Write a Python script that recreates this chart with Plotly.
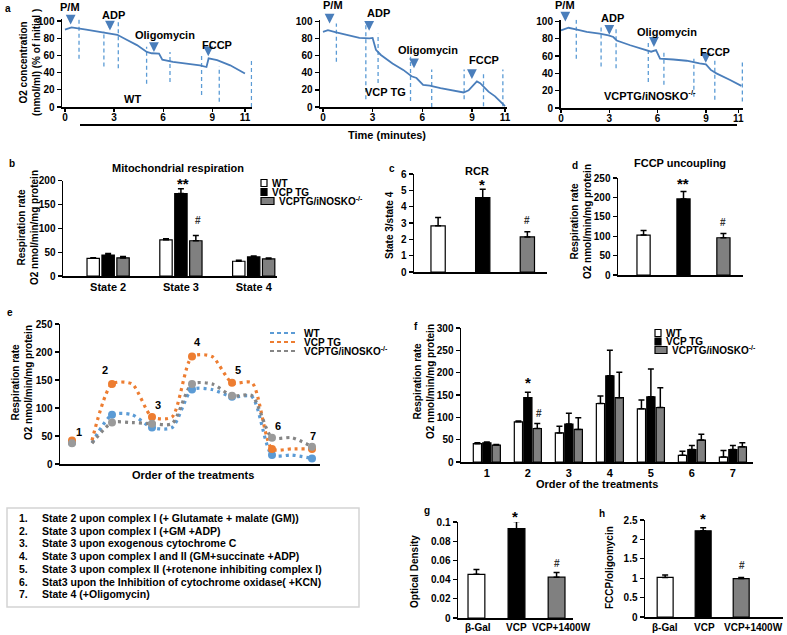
import plotly.graph_objects as go

W, H = 787, 635
FONT = "Arial, Liberation Sans, Helvetica, sans-serif"


def fx(x):
    return x / W


def fy(y):
    return 1 - y / H


# ---------------- DATA ----------------
# panel a: oxygen traces (minutes, % of initial)
time_ticks = [0, 3, 6, 9, 11]
o2_ticks = [0, 20, 40, 60, 80, 100]
wt_t = [0, 0.4, 1.3, 2.1, 2.95, 3.2, 3.8, 4.4, 5.0, 5.3, 5.75, 5.95, 6.6, 7.4, 8.25, 8.65, 8.78, 9.3, 10.1, 11.0]
wt_o2 = [90, 92.5, 90, 87.5, 85.5, 84, 78, 72, 64, 62.5, 62, 55, 52.5, 50.5, 48.5, 46.5, 56.5, 54.5, 48.5, 39]
vcp_t = [0, 0.3, 0.8, 1.4, 2.2, 2.8, 3.0, 3.2, 3.5, 4.2, 4.85, 5.35, 5.65, 6.05, 6.45, 7.1, 7.7, 8.5, 8.8, 9.3, 9.5, 10.0, 10.4, 11.0]
vcp_o2 = [88, 90, 87.5, 85, 81, 80.5, 81, 67, 61, 51, 43.5, 36, 34, 26, 25, 22, 20, 17, 19.5, 30, 28, 18, 12.5, 1]
inos_t = [0, 0.47, 1.0, 1.6, 2.4, 2.95, 3.25, 3.46, 4.3, 5.3, 5.6, 5.9, 6.15, 6.97, 7.8, 8.6, 9.0, 9.3, 9.65, 10.5, 11.2]
inos_o2 = [89.7, 92.7, 90.5, 88, 86, 84, 82, 78, 72.5, 66.8, 65, 66.8, 57, 56, 54.6, 51.5, 50.4, 44, 40, 32.4, 25.6]

# dashed interval marks (time, low, high)
wt_mark_t = [0.86, 2.38, 3.26, 4.99, 6.42, 8.35, 9.43, 11.4]
wt_mark_lo = [56, 47, 45, 27, 29, 14, 6, 0]
wt_mark_hi = [102, 88, 99, 70, 64, 62, 47, 54]
vcp_mark_t = [0.81, 2.59, 3.33, 5.29, 6.57, 8.53, 9.7, 10.87]
vcp_mark_lo = [53, 9, 28, 7, 0, 9, 1, 1]
vcp_mark_hi = [98, 96, 86, 59, 44, 44, 40, 44]
inos_mark_t = [0.95, 2.49, 3.42, 5.42, 6.39, 8.25, 9.55, 11.26]
inos_mark_lo = [57, 48, 46, 30, 27, 13, 9.5, 7.6]
inos_mark_hi = [102, 93.5, 93.5, 76, 67, 57, 57, 55]

# additions (arrow tips)
additions = ["P/M", "ADP", "Oligomycin", "FCCP"]
wt_add_t = [0.35, 2.75, 5.44, 8.76]
wt_add_o2 = [96, 89, 64, 59]
vcp_add_t = [0.4, 2.79, 5.5, 9.0]
vcp_add_o2 = [98, 89.5, 45.5, 32.7]
inos_add_t = [0.27, 3.0, 5.77, 8.99]
inos_add_o2 = [100, 84.7, 70.6, 52.3]

# panel b: mitochondrial respiration
states = ["State 2", "State 3", "State 4"]
resp_wt = [37, 76, 31]
resp_wt_err = [1.5, 2, 2]
resp_vcp = [44, 173, 40]
resp_vcp_err = [3, 10, 2]
resp_inos = [38, 74, 36]
resp_inos_err = [3, 11, 2]

# panel c: RCR
rcr = [2.83, 4.55, 2.15]
rcr_err = [0.5, 0.52, 0.31]

# panel d: FCCP uncoupling
fccp = [103, 196, 96]
fccp_err = [12, 19, 11]

# panel e: order of treatments (line)
e_wt = [38, 88, 65, 133, 120, 16, 10]
e_vcp = [42, 143, 84, 192, 145, 27, 27]
e_inos = [37, 74, 72, 143, 122, 47, 31]

# panel f: order of treatments (bars)
treatments = ["1", "2", "3", "4", "5", "6", "7"]
f_wt = [41, 90, 65, 131, 119, 15, 11]
f_wt_err = [2, 2, 15, 17, 20, 9, 15]
f_vcp = [43, 144, 85, 193, 146, 28, 28]
f_vcp_err = [2, 12, 24, 57, 62, 9, 9]
f_inos = [38, 75, 73, 144, 122, 49, 34]
f_inos_err = [1, 11, 26, 57, 44, 13, 9]

treatment_notes = [
    "State 2 upon complex I (+ Glutamate + malate (GM))",
    "State 3 upon complex I (+GM +ADP)",
    "State 3 upon exogenous cytochrome C",
    "State 3 upon complex I and II (GM+succinate +ADP)",
    "State 3 upon complex II (+rotenone inhibiting complex I)",
    "Stat3 upon the Inhibition of cytochrome oxidase( +KCN)",
    "State 4 (+Oligomycin)",
]

# panel g / h
cells = ["β-Gal", "VCP", "VCP+1400W"]
od = [0.0455, 0.093, 0.0425]
od_err = [0.005, 0.0075, 0.005]
ratio = [1.02, 2.22, 0.99]
ratio_err = [0.06, 0.08, 0.03]

# ---------------- STYLE ----------------
WHITE, BLACK, GRAY = "white", "black", "#808080"
TRACE_BLUE = "#4a7ebb"
MARK_BLUE = "#5b9bd5"
E_COLORS = {"wt": "#5b9bd5", "vcp": "#ed7d31", "inos": "#9a9a9a"}

fig = go.Figure()
layout = {}
annotations = []
shapes = []


def xa(n):
    return "x" if n == 1 else f"x{n}"


def ya(n):
    return "y" if n == 1 else f"y{n}"


def add_axes(n, xpx, ypx, xr, yr, ytickvals, yticktext=None,
             xtickvals=None, xticktext=None, xticks=False, xfont=11, yfont=10, xstandoff=0):
    kx = "xaxis" if n == 1 else f"xaxis{n}"
    ky = "yaxis" if n == 1 else f"yaxis{n}"
    common = dict(showline=True, linecolor="black", linewidth=1.5, showgrid=False,
                  zeroline=False, ticklen=4, tickwidth=1.2, tickcolor="black",
                  fixedrange=True, automargin=False)
    xd = dict(common, domain=[fx(xpx[0]), fx(xpx[1])], range=xr, anchor=ya(n),
              ticks="outside" if xticks else "", tickangle=0, ticklabelstandoff=xstandoff,
              tickfont=dict(family=FONT, size=xfont, color="black", weight="bold"))
    if xticks:
        xd.update(ticklen=3)
    if xtickvals is not None:
        xd.update(tickmode="array", tickvals=xtickvals,
                  ticktext=xticktext if xticktext is not None else [str(v) for v in xtickvals])
    else:
        xd.update(showticklabels=False)
    yd = dict(common, domain=[fy(ypx[0]), fy(ypx[1])], range=yr, anchor=xa(n),
              ticks="outside", tickmode="array", tickvals=ytickvals,
              ticktext=yticktext if yticktext is not None else [str(v) for v in ytickvals],
              tickfont=dict(family=FONT, size=yfont, color="black", weight="bold"))
    layout[kx] = xd
    layout[ky] = yd


def txt(x, y, s, size=11, bold=True, xanchor="center", angle=0, color="black"):
    annotations.append(dict(
        x=fx(x), y=fy(y), xref="paper", yref="paper", showarrow=False,
        text=f"<b>{s}</b>" if bold else s, textangle=angle, xanchor=xanchor, yanchor="middle",
        font=dict(family=FONT, size=size, color=color)))


# ---------------- PANEL a ----------------
add_axes(1, (62, 252.3), (107, 19.3), [-0.18, 11.45], [0, 102], o2_ticks,
         xtickvals=time_ticks, xticks=True, xfont=10, xstandoff=-3)
add_axes(2, (320, 507), (107, 20), [-0.18, 11.12], [0, 102], o2_ticks,
         xtickvals=time_ticks, xticks=True, xfont=10, xstandoff=-3)
add_axes(3, (560.5, 743), (108, 19.7), [-0.03, 11.3], [0, 102], o2_ticks,
         xtickvals=time_ticks, xticks=True, xfont=10, xstandoff=-3)

traces_a = [
    (1, wt_t, wt_o2, wt_mark_t, wt_mark_lo, wt_mark_hi, wt_add_t, wt_add_o2),
    (2, vcp_t, vcp_o2, vcp_mark_t, vcp_mark_lo, vcp_mark_hi, vcp_add_t, vcp_add_o2),
    (3, inos_t, inos_o2, inos_mark_t, inos_mark_lo, inos_mark_hi, inos_add_t, inos_add_o2),
]
for n, tt, oo, mt, mlo, mhi, at, ao in traces_a:
    mx, my = [], []
    for t, lo, hi in zip(mt, mlo, mhi):
        mx += [t, t, None]
        my += [lo, hi, None]
    fig.add_trace(go.Scatter(x=mx, y=my, mode="lines", xaxis=xa(n), yaxis=ya(n),
                             line=dict(color=MARK_BLUE, width=1.3, dash="4px,3px"),
                             showlegend=False, hoverinfo="skip"))
    fig.add_trace(go.Scatter(x=tt, y=oo, mode="lines", xaxis=xa(n), yaxis=ya(n),
                             line=dict(color=TRACE_BLUE, width=1.8), showlegend=False))
    for t, o in zip(at, ao):
        annotations.append(dict(x=t, y=o, xref=xa(n), yref=ya(n), ax=0, ay=-10,
                                showarrow=True, arrowhead=2, arrowsize=0.85, arrowwidth=2.3,
                                arrowcolor=TRACE_BLUE, text=""))

add_label_pos = {
    1: [(70, 7), (113, 15), (165, 35), (217, 45)],
    2: [(333, 5), (378, 13), (428, 50), (484, 60)],
    3: [(565, 5), (612, 18), (667, 32), (715, 52)],
}
for n, pos in add_label_pos.items():
    for lab, (x, y) in zip(additions, pos):
        txt(x, y, lab, size=11)
txt(132, 99, "WT", size=11)
txt(385, 92, "VCP TG", size=11)
txt(650, 95, "VCPTG/iNOSKO<sup>-/-</sup>", size=11)
txt(3, 8, "a", size=10, xanchor="left")
txt(30, 63, "O2 concentration<br>(nmol/ml) (% of initial )", size=10, angle=-90)
shapes.append(dict(type="line", xref="paper", yref="paper", x0=fx(80), x1=fx(737),
                   y0=fy(125), y1=fy(125), line=dict(color="black", width=2)))
txt(387, 135, "Time (minutes)", size=11)

# ---------------- PANEL b ----------------
add_axes(4, (63, 277), (276, 180.7), [-0.62, 2.32], [0, 200], [0, 50, 100, 150, 200],
         xtickvals=[0, 1, 2], xticktext=states)
off_b, w_b = 0.205, 0.17
for vals, err, col, k in [(resp_wt, resp_wt_err, WHITE, -1), (resp_vcp, resp_vcp_err, BLACK, 0),
                          (resp_inos, resp_inos_err, GRAY, 1)]:
    fig.add_trace(go.Bar(x=[i + k * off_b for i in range(len(states))], y=vals, width=w_b,
                         xaxis="x4", yaxis="y4", showlegend=False,
                         marker=dict(color=col, line=dict(color="black", width=1.2)),
                         error_y=dict(type="data", symmetric=False, array=err,
                                      arrayminus=[0] * len(err), color="black",
                                      thickness=1.5, width=3)))
txt(178, 168, "Mitochondrial respiration", size=11)
txt(7, 163, "b", size=10, xanchor="left")
txt(28, 228, "Respiration rate<br>O2 nmol/min/mg protein", size=10, angle=-90)
txt(183, 183, "**", size=15)
txt(198, 220, "#", size=10, color="#333")


def square_legend(x, ys, labels, colors, widths):
    for yy, lab, col, wd in zip(ys, labels, colors, widths):
        shapes.append(dict(type="rect", xref="paper", yref="paper", x0=fx(x), x1=fx(x + wd),
                           y0=fy(yy + 3.5), y1=fy(yy - 3.5), fillcolor=col,
                           line=dict(color="black", width=1.2)))
        txt(x + wd + 2.5, yy, lab, size=10, xanchor="left")


square_legend(261, [183, 192, 201], ["WT", "VCP TG", "VCPTG/iNOSKO<sup>-/-</sup>"],
              [WHITE, BLACK, GRAY], [6, 6, 13])

# ---------------- PANEL c ----------------
add_axes(5, (414, 547), (272, 174), [-0.54, 2.44], [0, 6], [0, 1, 2, 3, 4, 5, 6])
fig.add_trace(go.Bar(x=[0, 1, 2], y=rcr, width=0.32, xaxis="x5", yaxis="y5", showlegend=False,
                     marker=dict(color=[WHITE, BLACK, GRAY], line=dict(color="black", width=1.2)),
                     error_y=dict(type="data", symmetric=False, array=rcr_err,
                                  arrayminus=[0, 0, 0], color="black", thickness=1.5, width=3)))
txt(477, 171, "RCR", size=11)
txt(387, 168, "c", size=10, xanchor="left")
txt(389, 225, "State 3/state 4", size=10, angle=-90)
txt(482, 184, "*", size=15)
txt(527, 220, "#", size=10, color="#333")

# ---------------- PANEL d ----------------
add_axes(6, (618, 743), (275, 178), [-0.64, 2.49], [0, 250], [0, 50, 100, 150, 200, 250])
fig.add_trace(go.Bar(x=[0, 1, 2], y=fccp, width=0.33, xaxis="x6", yaxis="y6", showlegend=False,
                     marker=dict(color=[WHITE, BLACK, GRAY], line=dict(color="black", width=1.2)),
                     error_y=dict(type="data", symmetric=False, array=fccp_err,
                                  arrayminus=[0, 0, 0], color="black", thickness=1.5, width=3)))
txt(680, 163, "FCCP uncoupling", size=11)
txt(570, 165, "d", size=10, xanchor="left")
txt(581, 222, "Respiration rate<br>O2 nmol/min/mg protein", size=10, angle=-90)
txt(683, 183, "**", size=15)
txt(723, 222, "#", size=10, color="#333")

# ---------------- PANEL e ----------------
add_axes(7, (60, 320), (464, 324), [0.7, 7.2], [0, 250], [0, 50, 100, 150, 200, 250])
e_line_x = [1.5, 2, 2.5, 3, 3.5, 4, 4.5, 5, 5.5, 6, 6.5, 7]


def plateau(v):
    ys = [v[0]]
    for i in range(1, 6):
        ys += [v[i], v[i]]
    ys.append(v[6])
    return ys


for key, vals in [("wt", e_wt), ("vcp", e_vcp), ("inos", e_inos)]:
    col = E_COLORS[key]
    fig.add_trace(go.Scatter(x=e_line_x, y=plateau(vals), mode="lines", xaxis="x7", yaxis="y7",
                             line=dict(color=col if key != "inos" else "#858585", width=3.2,
                                       dash="3px,4px", shape="spline", smoothing=0.7),
                             showlegend=False))
for key, vals in [("wt", e_wt), ("vcp", e_vcp), ("inos", e_inos)]:
    fig.add_trace(go.Scatter(x=list(range(1, 8)), y=vals, mode="markers", xaxis="x7", yaxis="y7",
                             marker=dict(color=E_COLORS[key], size=8), showlegend=False))
for lab, (x, y) in zip(treatments, [(79, 432), (105, 370), (158, 405), (197, 342),
                                    (238, 370), (278, 426), (313, 436)]):
    txt(x, y, lab, size=11)
txt(5, 313, "e", size=10, xanchor="left")
txt(22, 383, "Respiration rate<br>O2 nmol/min/mg protein", size=10, angle=-90)
txt(193, 475, "Order of the treatments", size=11)
for yy, lab, col in zip([333, 342, 351], ["WT", "VCP TG", "VCPTG/iNOSKO<sup>-/-</sup>"],
                        [E_COLORS["wt"], E_COLORS["vcp"], "#858585"]):
    shapes.append(dict(type="line", xref="paper", yref="paper", x0=fx(270), x1=fx(296),
                       y0=fy(yy), y1=fy(yy), line=dict(color=col, width=2.2, dash="4px,3px")))
    txt(302, yy, lab, size=10, xanchor="left")

# ---------------- PANEL f ----------------
add_axes(8, (461, 753), (462, 328), [0.37, 7.49], [0, 300], [0, 50, 100, 150, 200, 250, 300],
         xtickvals=list(range(1, 8)), xticktext=treatments)
off_f, w_f = 0.23, 0.2
for vals, err, col, k in [(f_wt, f_wt_err, WHITE, -1), (f_vcp, f_vcp_err, BLACK, 0),
                          (f_inos, f_inos_err, GRAY, 1)]:
    fig.add_trace(go.Bar(x=[i + 1 + k * off_f for i in range(len(treatments))], y=vals, width=w_f,
                         xaxis="x8", yaxis="y8", showlegend=False,
                         marker=dict(color=col, line=dict(color="black", width=1.2)),
                         error_y=dict(type="data", symmetric=False, array=err,
                                      arrayminus=[0] * len(err), color="black",
                                      thickness=1.5, width=3)))
txt(412, 326, "f", size=10, xanchor="left")
txt(424, 381, "Respiration rate<br>O2 nmol/min/mg protein", size=10, angle=-90)
txt(597, 484, "Order of the treatments", size=11)
txt(528, 382, "*", size=15)
txt(539, 413, "#", size=10, color="#333")
square_legend(655, [333, 341.5, 350], ["WT", "VCP TG", "VCPTG/iNOSKO<sup>-/-</sup>"],
              [WHITE, BLACK, GRAY], [6, 6, 12])

# ---------------- treatment list ----------------
shapes.append(dict(type="rect", xref="paper", yref="paper", x0=fx(7), x1=fx(359),
                   y0=fy(607), y1=fy(508), line=dict(color="#d4d4d4", width=1.5)))
for i, note in enumerate(treatment_notes):
    yy = 518 + i * 12.7
    txt(17, yy, f"{i + 1}.", size=10.5, xanchor="left")
    txt(40, yy, note, size=10.5, xanchor="left")

# ---------------- PANEL g ----------------
add_axes(9, (458, 573), (618, 522), [-0.46, 2.41], [0, 0.1], [0, 0.02, 0.04, 0.06, 0.08, 0.1],
         yticktext=["0", "0.02", "0.04", "0.06", "0.08", "0.1"])
fig.add_trace(go.Bar(x=[0, 1, 2], y=od, width=0.42, xaxis="x9", yaxis="y9", showlegend=False,
                     marker=dict(color=[WHITE, BLACK, GRAY], line=dict(color="black", width=1.2)),
                     error_y=dict(type="data", symmetric=False, array=od_err,
                                  arrayminus=[0, 0, 0], color="black", thickness=1.5, width=3)))
for lab, x in zip(cells, [478, 516, 561]):
    txt(x, 627, lab, size=10)
txt(422, 510, "g", size=10, xanchor="left")
txt(414, 572, "Optical Density", size=10, angle=-90)
txt(515, 516, "*", size=15)
txt(557, 563, "#", size=10, color="#333")

# ---------------- PANEL h ----------------
add_axes(10, (645, 783), (617, 520), [-0.53, 3.1], [0, 2.5], [0, 0.5, 1, 1.5, 2, 2.5],
         yticktext=["0", "0.5", "1", "1.5", "2", "2.5"])
fig.add_trace(go.Bar(x=[0, 1, 2], y=ratio, width=0.42, xaxis="x10", yaxis="y10", showlegend=False,
                     marker=dict(color=[WHITE, BLACK, GRAY], line=dict(color="black", width=1.2)),
                     error_y=dict(type="data", symmetric=False, array=ratio_err,
                                  arrayminus=[0, 0, 0], color="black", thickness=1.5, width=3)))
for lab, x in zip(cells, [665, 704, 753]):
    txt(x, 627, lab, size=10)
txt(597, 513, "h", size=10, xanchor="left")
txt(609, 568, "FCCP/oligomycin", size=10, angle=-90)
txt(703, 518, "*", size=15)
txt(742, 565, "#", size=10, color="#333")

fig.update_layout(
    template="none",
    width=W, height=H, autosize=False,
    margin=dict(l=0, r=0, t=0, b=0, pad=0),
    paper_bgcolor="white", plot_bgcolor="white",
    font=dict(family=FONT, color="black"),
    showlegend=False, barmode="overlay",
    annotations=annotations, shapes=shapes,
    **layout,
)

fig.write_html("out.html",
               config={"displayModeBar": False, "staticPlot": True},
               post_script="document.body.style.margin='0px';"
                           "document.body.style.overflow='hidden';")
